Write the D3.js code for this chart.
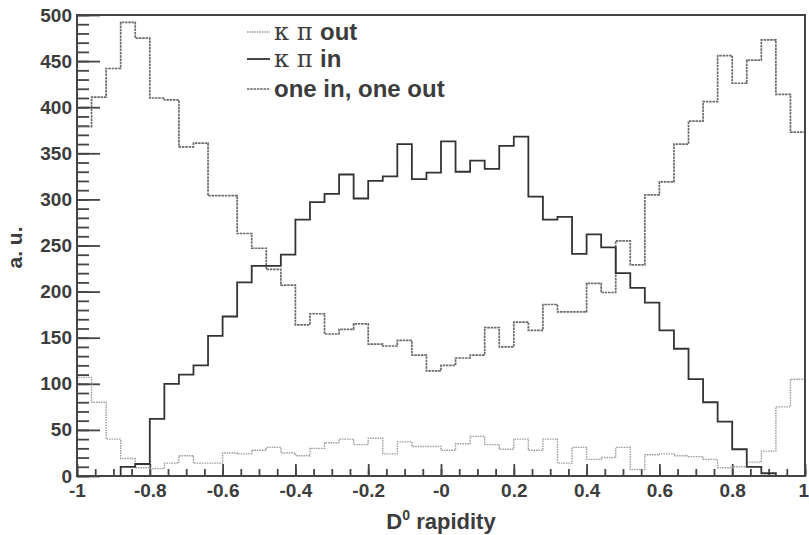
<!DOCTYPE html>
<html>
<head>
<meta charset="utf-8">
<script src="https://cdn.jsdelivr.net/npm/d3@7"></script>
<style>
body { margin: 0; background: #fff; }
text { font-family: "Liberation Sans", Arial, sans-serif; font-weight: bold; fill: #3c3c3c; }
</style>
</head>
<body>
<div id="chart"></div>
<script>
// histogram binning: 50 bins from -1 to 1
var xMin = -1, xMax = 1, nBins = 50;
var binWidth = (xMax - xMin) / nBins;

// bin contents
var kpiOut = [107, 80, 40, 19, 9, 8, 14, 22, 14, 14,
    25, 24, 28, 31, 25, 22, 30, 36, 40, 34,
    41, 24, 37, 32, 32, 28, 35, 43, 34, 29,
    40, 28, 40, 14, 31, 18, 20, 31, 7, 23,
    24, 22, 21, 18, 9, 10, 15, 27, 75, 105];
var kpiIn = [0, 0, 0, 10, 13, 62, 100, 110, 120, 152,
    173, 210, 228, 228, 240, 278, 297, 306, 327, 301,
    320, 325, 360, 322, 329, 363, 330, 342, 333, 358,
    368, 303, 278, 281, 241, 262, 248, 220, 204, 188,
    158, 138, 105, 80, 59, 29, 10, 3, 0, 0];
var oneInOneOut = [379, 411, 442, 492, 475, 410, 408, 357, 361, 304,
    304, 263, 247, 224, 207, 164, 176, 154, 159, 165,
    143, 141, 147, 131, 114, 120, 128, 131, 161, 140,
    167, 158, 186, 178, 178, 209, 199, 255, 229, 305,
    319, 360, 385, 406, 456, 426, 451, 473, 414, 373];

var xTickLabels = ["-1", "-0.8", "-0.6", "-0.4", "-0.2", "-0", "0.2", "0.4", "0.6", "0.8", "1"];
var legendNames = ["out", "in", "one in, one out"];

var svgWidth = 809;
var svgHeight = 535;
var margin = { top: 15, right: 4, bottom: 59, left: 77 };
var width = svgWidth - margin.left - margin.right;
var height = svgHeight - margin.top - margin.bottom;

var svg = d3.select("#chart")
    .append("svg")
    .attr("width", svgWidth)
    .attr("height", svgHeight);

var chartGroup = svg.append("g")
    .attr("transform", `translate(${margin.left}, ${margin.top})`);

var xScale = d3.scaleLinear().domain([xMin, xMax]).range([0, width]);
var yScale = d3.scaleLinear().domain([0, 500]).range([height, 0]);

// minor ticks first, then major ones with labels
var yMinor = chartGroup.append("g")
    .call(d3.axisLeft(yScale).tickValues(d3.range(0, 501, 10)).tickSize(-12).tickFormat(""));
var yMajor = chartGroup.append("g")
    .call(d3.axisLeft(yScale).tickValues(d3.range(0, 501, 50)).tickSize(-23).tickPadding(5));
var xMinor = chartGroup.append("g")
    .attr("transform", `translate(0, ${height})`)
    .call(d3.axisBottom(xScale).tickValues(d3.range(0, 41).map(i => xMin + i * 0.05)).tickSize(-7).tickFormat(""));
var xMajor = chartGroup.append("g")
    .attr("transform", `translate(0, ${height})`)
    .call(d3.axisBottom(xScale).tickValues(d3.range(0, 11).map(i => xMin + i * 0.2))
        .tickSize(-12).tickFormat((d, i) => xTickLabels[i]));

chartGroup.selectAll(".domain").remove();
chartGroup.selectAll(".tick line").attr("stroke", "#444").attr("stroke-width", 1.8);
yMajor.selectAll("text").style("font-size", "19px").attr("fill", "#3c3c3c");
xMajor.selectAll("text").style("font-size", "19px").attr("fill", "#3c3c3c")
    .attr("y", 21).attr("dy", 0);
// last label sits right on the window edge
xMajor.selectAll("text").filter((d, i) => i === xTickLabels.length - 1)
    .attr("text-anchor", "end").attr("x", 3.5);

// histograms as step outlines
function stepPoints(values) {
    var pts = [[xMin, 0]];
    values.forEach((v, i) => pts.push([xMin + i * binWidth, v]));
    pts.push([xMax, values[values.length - 1]]);
    pts.push([xMax, 0]);
    return pts;
}
var line = d3.line()
    .x(d => xScale(d[0]))
    .y(d => yScale(d[1]))
    .curve(d3.curveStepAfter);

var styles = [
    { data: kpiOut, color: "#9a9a9a", width: 1.4, dash: "1.5,1" },
    { data: kpiIn, color: "#333", width: 1.8, dash: null },
    { data: oneInOneOut, color: "#6a6a6a", width: 1.7, dash: "2.5,0.8" }
];
[styles[0], styles[2], styles[1]].forEach(s => {
    chartGroup.append("path")
        .attr("d", line(stepPoints(s.data)))
        .attr("fill", "none")
        .attr("stroke", s.color)
        .attr("stroke-width", s.width)
        .attr("stroke-dasharray", s.dash);
});

// frame
chartGroup.append("rect")
    .attr("width", width)
    .attr("height", height)
    .attr("fill", "none")
    .attr("stroke", "#444")
    .attr("stroke-width", 2);

// legend
var legendBase = [25, 52, 82];
var legend = chartGroup.append("g");
styles.forEach((s, i) => {
    legend.append("line")
        .attr("x1", 170).attr("x2", 193)
        .attr("y1", legendBase[i] - 8).attr("y2", legendBase[i] - 8)
        .attr("stroke", s.color)
        .attr("stroke-width", s.width)
        .attr("stroke-dasharray", s.dash);
    var t = legend.append("text")
        .attr("x", 197)
        .attr("y", legendBase[i])
        .style("font-size", "24px");
    if (i < 2) {
        t.append("tspan").style("font-weight", "normal").style("font-family", "'DejaVu Serif', serif").text("\u03ba \u03c0 ");
    }
    t.append("tspan").text(legendNames[i]);
});

// axis titles
chartGroup.append("text")
    .attr("transform", `translate(-55, ${yScale(250) + 2}) rotate(-90)`)
    .attr("text-anchor", "middle")
    .style("font-size", "21px")
    .text("a. u.");

var xTitle = chartGroup.append("text")
    .attr("x", width / 2)
    .attr("y", height + 53)
    .attr("text-anchor", "middle")
    .style("font-size", "22px");
xTitle.append("tspan").text("D");
xTitle.append("tspan").attr("dy", -9).style("font-size", "14px").text("0");
xTitle.append("tspan").attr("dy", 9).text(" rapidity");
</script>
</body>
</html>
